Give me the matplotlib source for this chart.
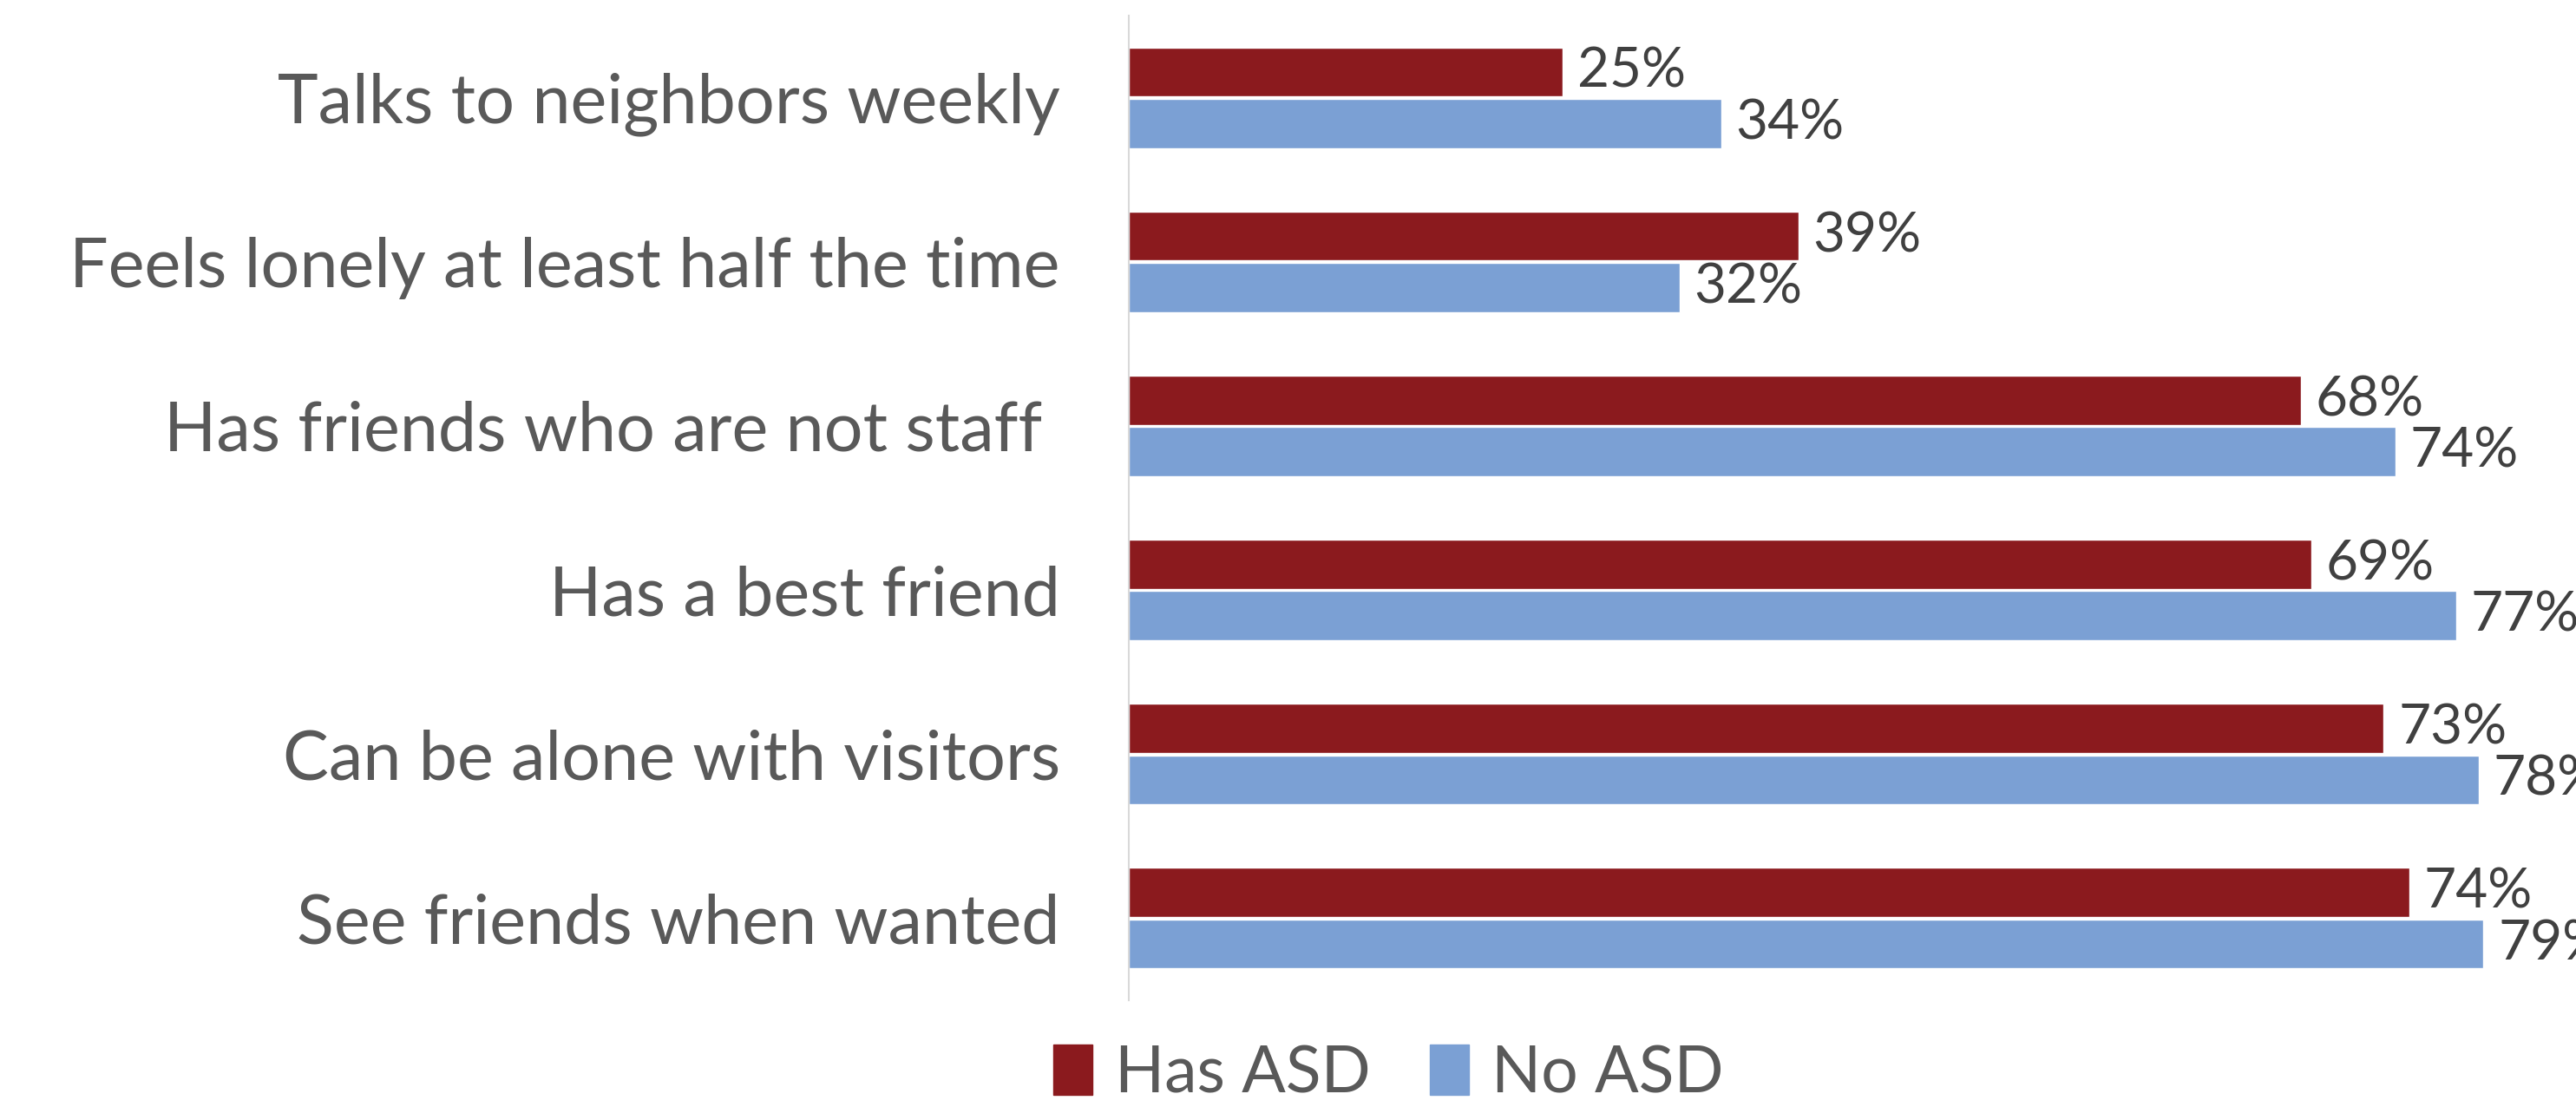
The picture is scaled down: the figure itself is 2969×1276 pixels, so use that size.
import matplotlib.pyplot as plt
import numpy as np
from matplotlib.patches import Patch

# data
categories = [
    "Talks to neighbors weekly",
    "Feels lonely at least half the time",
    "Has friends who are not staff ",
    "Has a best friend",
    "Can be alone with visitors",
    "See friends when wanted",
]
has_asd = [0.252, 0.389, 0.681, 0.687, 0.729, 0.744]
no_asd = [0.344, 0.320, 0.736, 0.771, 0.784, 0.787]
series_names = ["Has ASD", "No ASD"]

RED = "#8B1A1E"
BLUE = "#7BA0D4"
LABEL_GRAY = "#595959"
VALUE_GRAY = "#404040"

plt.rcParams['font.family'] = ['Lato', 'DejaVu Sans']

fig = plt.figure(figsize=(29.69, 12.76), dpi=100)
ax = fig.add_axes([0.4382, 0.0964, 0.5618, 0.8895])

y = np.arange(len(categories))
h = 0.30
off = 0.157

ax.barh(y - off, has_asd, height=h, color=RED, edgecolor="white", linewidth=1)
ax.barh(y + off, no_asd, height=h, color=BLUE, edgecolor="white", linewidth=1)

for yy, v in zip(y - off, has_asd):
    ax.annotate(f"{v:.0%}", (v, yy), xytext=(12, 0), textcoords="offset points",
                va="center", ha="left", fontsize=46, color=VALUE_GRAY)
for yy, v in zip(y + off, no_asd):
    ax.annotate(f"{v:.0%}", (v, yy), xytext=(12, 0), textcoords="offset points",
                va="center", ha="left", fontsize=46, color=VALUE_GRAY)

ax.set_xlim(0, 0.8407)
ax.set_ylim(len(categories) - 0.5, -0.5)
ax.set_yticks(y)
ax.set_yticklabels(categories, fontsize=57, color=LABEL_GRAY)
ax.tick_params(axis="y", length=0, pad=57)
ax.set_xticks([])

for side in ["top", "right", "bottom"]:
    ax.spines[side].set_visible(False)
ax.spines["left"].set_color("#D9D9D9")
ax.spines["left"].set_linewidth(1.5)

handles = [Patch(color=RED), Patch(color=BLUE)]
leg = fig.legend(handles, series_names, loc="center", bbox_to_anchor=(0.539, 0.03),
                 ncol=2, frameon=False, fontsize=54, handlelength=0.6, handleheight=0.8,
                 handletextpad=0.35, columnspacing=0.9)
for t in leg.get_texts():
    t.set_color(LABEL_GRAY)

fig.savefig("out.png", dpi=100)
